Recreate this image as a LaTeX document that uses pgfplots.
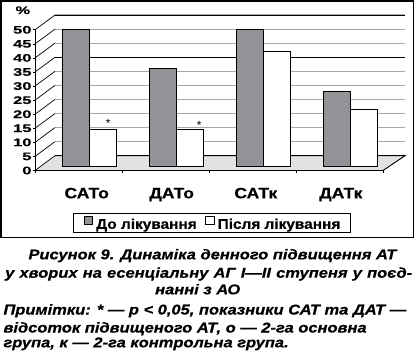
\documentclass[border=0pt]{standalone}
\usepackage{fontspec}
\setmainfont{Liberation Sans}
\newfontfamily\tickfont[FakeStretch=1.5,FakeBold=0.4]{Liberation Sans}
\newfontfamily\catfont[FakeStretch=1.17,FakeBold=0.4]{Liberation Sans}
\newfontfamily\legfont[FakeStretch=1.1,FakeBold=0.4]{Liberation Sans}
\newfontfamily\capfont[FakeStretch=1.16,FakeBold=0.6]{Liberation Sans}
\usepackage{pgfplots}
\pgfplotsset{compat=1.18}
\definecolor{bargray}{RGB}{146,147,151}
\definecolor{floorgray}{RGB}{226,226,226}
\definecolor{gridgray}{RGB}{168,168,168}

\pgfplotstableread{
x before after
0 49.0 13.5
1 35.1 13.5
2 49.0 41.2
3 27.0 20.3
}\datatable

\begin{document}
\begin{tikzpicture}
\useasboundingbox (0,0) rectangle (415pt,351pt);
\begin{scope}[x=1pt,y=-1pt,shift={(0pt,351pt)}]
  % outer frame
  \draw[line width=1.3pt] (1,1) rectangle (413.3,237.3);
  % floor
  \fill[floorgray] (35,170.5) -- (55,155.7) -- (405,155.7) -- (383,170.5) -- cycle;
  % back wall gridlines
  \foreach \v in {5,10,...,50} {
    \draw[gridgray, line width=1.2pt] (55,{155.7-2.813*\v}) -- (405,{155.7-2.813*\v});
  }
  \foreach \v in {35,50} {
    \draw[black, line width=0.9pt] (55,{155.7-2.813*\v}) -- (405,{155.7-2.813*\v});
  }
  % side diagonals and front ticks
  \foreach \v in {0,5,...,50} {
    \draw[line width=0.7pt] (35,{170.5-2.813*\v}) -- (55,{155.7-2.813*\v});
    \draw[line width=0.7pt] (33,{170.5-2.813*\v}) -- (35,{170.5-2.813*\v});
  }
  % front vertical axis
  \draw[line width=0.9pt] (35,170.5) -- (35,29.85);
  % floor outline
  \draw[line width=0.9pt] (55,155.7) -- (405,155.7) -- (383,170.5) -- (35,170.5);
  % x ticks
  \foreach \t in {35,122,209,296,383} {
    \draw[line width=0.8pt] (\t,170.5) -- (\t,173.5);
  }
  % percent sign
  \node[font=\tickfont\bfseries\fontsize{11}{11}\selectfont, inner sep=0pt] at (22.8,10.3) {\%};
  % caption
  \begin{scope}[every node/.style={inner sep=0pt, anchor=base west, font=\capfont\bfseries\itshape\fontsize{14.2}{14.2}\selectfont}]
    \node at (28.3,259.3) {Рисунок 9. Динаміка денного підвищення АТ};
    \node at (5,277.7) {\makebox[407pt][s]{у хворих на есенціальну АГ I—II ступеня у поєд-}};
    \node at (155,294.3) {нанні з АО};
    \node at (3.3,314.5) {Примітки: * — p < 0,05, показники САТ та ДАТ —};
    \node at (3.3,332.5) {відсоток підвищеного АТ, о — 2-га основна};
    \node at (3.3,347.3) {група, к — 2-га контрольна група.};
  \end{scope}
\end{scope}

\begin{axis}[
  at={(45.8pt,184pt)}, anchor=south west,
  scale only axis, width=348pt, height=140.7pt,
  xmin=-0.5, xmax=3.5, ymin=0, ymax=50,
  clip=false,
  axis line style={draw=none},
  major tick length=0pt,
  ybar=0pt, bar width=27pt,
  ytick={0,5,...,50},
  /pgf/number format/assume math mode=true,
  yticklabel style={font=\tickfont\bfseries\fontsize{11}{11}\selectfont, anchor=east, inner sep=0pt, xshift=-14.1pt, yshift=-3.5pt},
  xtick={-0.03,0.947,1.914,2.891},
  xticklabels={САТо,ДАТо,САТк,ДАТк},
  xticklabel style={font=\catfont\bfseries\fontsize{15}{15}\selectfont, anchor=base, inner sep=0pt, yshift=-31.3pt},
  legend columns=2,
  legend image code/.code={\draw[#1,line width=0.8pt] (0pt,0pt) rectangle (8.4pt,8.4pt);},
  legend style={draw=black, line width=1pt, at={(0.4776,-0.398)}, anchor=center,
    font=\legfont\bfseries\fontsize{14}{14}\selectfont,
    inner xsep=10pt, inner ysep=2pt,
    nodes={inner sep=0pt},
    /tikz/every odd column/.append style={column sep=3.3pt},
    /tikz/every even column/.append style={column sep=8.4pt}},
]
\addplot[fill=bargray, draw=black, line width=1pt] table[x=x, y=before] {\datatable};
\addplot[fill=white, draw=black, line width=1pt] table[x=x, y=after] {\datatable};
\legend{До лікування, Після лікування}
\node[font=\fontsize{12}{12}\selectfont, inner sep=0pt, anchor=base] at (axis cs:0.218,14.2) {*};
\node[font=\fontsize{12}{12}\selectfont, inner sep=0pt, anchor=base] at (axis cs:1.263,13.3) {*};
\end{axis}
\end{tikzpicture}
\end{document}
